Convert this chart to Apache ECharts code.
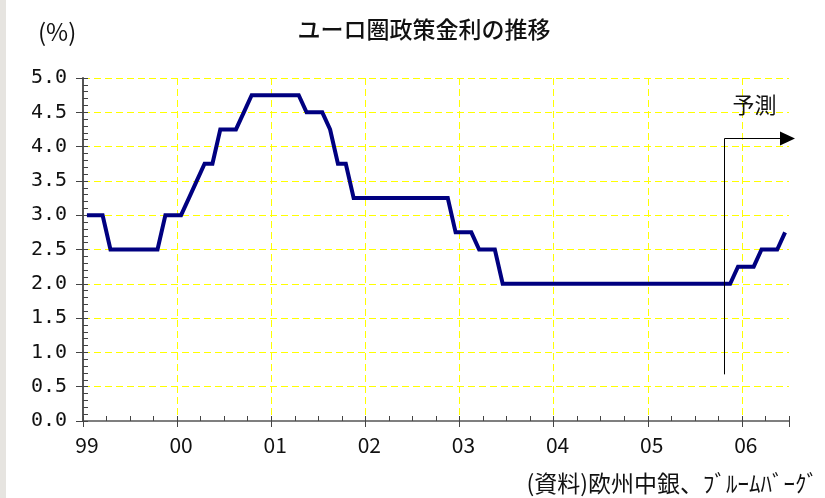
<!DOCTYPE html>
<html>
<head>
<meta charset="utf-8">
<script src="https://cdn.jsdelivr.net/npm/echarts@6/dist/echarts.min.js"></script>
<style>
html,body{margin:0;padding:0;background:#fff;}
#wrap{position:relative;width:825px;height:498px;background:#fff;}
#strip{position:absolute;left:0;top:0;width:6px;height:498px;background:#e6e4e0;}
#chart{position:absolute;left:0;top:0;width:825px;height:498px;}
</style>
</head>
<body>
<div id="wrap"><div id="strip"></div><div id="chart"></div></div>
<script>
// ---- data ----
const startYear = 1999;
const monthCount = 90; // Jan 1999 – Jun 2006
const months = [];
for (let i = 0; i < monthCount; i++) {
  const y = startYear + Math.floor(i / 12);
  const m = (i % 12) + 1;
  months.push(y + '-' + (m < 10 ? '0' + m : m));
}
const rate1999 = [3.0, 3.0, 3.0, 2.5, 2.5, 2.5, 2.5, 2.5, 2.5, 2.5, 3.0, 3.0];
const rate2000 = [3.0, 3.25, 3.5, 3.75, 3.75, 4.25, 4.25, 4.25, 4.5, 4.75, 4.75, 4.75];
const rate2001 = [4.75, 4.75, 4.75, 4.75, 4.5, 4.5, 4.5, 4.25, 3.75, 3.75, 3.25, 3.25];
const rate2002 = [3.25, 3.25, 3.25, 3.25, 3.25, 3.25, 3.25, 3.25, 3.25, 3.25, 3.25, 2.75];
const rate2003 = [2.75, 2.75, 2.5, 2.5, 2.5, 2.0, 2.0, 2.0, 2.0, 2.0, 2.0, 2.0];
const rate2004 = [2.0, 2.0, 2.0, 2.0, 2.0, 2.0, 2.0, 2.0, 2.0, 2.0, 2.0, 2.0];
const rate2005 = [2.0, 2.0, 2.0, 2.0, 2.0, 2.0, 2.0, 2.0, 2.0, 2.0, 2.0, 2.25];
const rate2006 = [2.25, 2.25, 2.5, 2.5, 2.5, 2.75];
const rates = [].concat(rate1999, rate2000, rate2001, rate2002, rate2003, rate2004, rate2005, rate2006);
const yearLabels = ['99', '00', '01', '02', '03', '04', '05', '06'];
const yTicks = { min: 0, max: 5, step: 0.5 };
// annotation (forecast marker)
const forecastStart = '2005-10';
const arrowTopValue = 4.13;
const arrowBottomValue = 0.68;

const titleText = 'ユーロ圏政策金利の推移';
const unitText = '(%)';
const sourceText = '(資料)欧州中銀、ﾌﾞﾙｰﾑﾊﾞｰｸﾞ';
const forecastText = '予測';

const JP = '"Noto Sans CJK JP", sans-serif';
const yellowDash = { color: '#ffff00', width: 1, type: [7, 4] };

const chart = echarts.init(document.getElementById('chart'), null, { renderer: 'canvas' });
chart.setOption({
  backgroundColor: 'transparent',
  animation: false,
  title: {
    text: titleText,
    left: 419, top: 13, textAlign: 'center',
    textStyle: { fontFamily: JP, fontSize: 23, fontWeight: 500, color: '#111' }
  },
  grid: { left: 83, right: 36, top: 78, bottom: 77, containLabel: false },
  xAxis: [
    {
      type: 'category', data: months, boundaryGap: true, position: 'bottom',
      axisLine: { show: true, lineStyle: { color: '#555', width: 1.5 } },
      axisTick: { show: true, inside: true, length: 5, interval: (i) => i % 3 === 0, lineStyle: { color: '#444', width: 1 } },
      axisLabel: {
        show: true, interval: (i) => i % 12 === 0, margin: 14,
        formatter: (v, i) => yearLabels[Math.floor(i / 12)],
        fontFamily: JP, fontSize: 21, color: '#111'
      },
      splitLine: { show: true, showMinLine: false, showMaxLine: false, interval: (i) => i % 12 === 0, lineStyle: yellowDash }
    },
    {
      type: 'category', data: months, boundaryGap: true, position: 'bottom',
      axisLine: { show: false },
      axisTick: { show: true, inside: false, length: 6, interval: (i) => i % 12 === 0, lineStyle: { color: '#444', width: 1 } },
      axisLabel: { show: false },
      splitLine: { show: false }
    }
  ],
  yAxis: [
    {
      type: 'value', min: yTicks.min, max: yTicks.max, interval: yTicks.step, position: 'left',
      axisLine: { show: true, lineStyle: { color: '#555', width: 2 } },
      axisTick: { show: true, inside: true, length: 5, lineStyle: { color: '#444', width: 1 } },
      minorTick: { show: true, splitNumber: 5, length: 5, lineStyle: { color: '#444', width: 1 } },
      axisLabel: {
        margin: 16, formatter: (v) => v.toFixed(1),
        fontFamily: '"DejaVu Sans Mono", monospace', fontSize: 20, color: '#111'
      },
      splitLine: { show: true, showMinLine: false, lineStyle: yellowDash }
    },
    {
      type: 'value', min: yTicks.min, max: yTicks.max, interval: yTicks.step, position: 'left',
      axisLine: { show: false },
      axisTick: { show: true, inside: false, length: 7, lineStyle: { color: '#444', width: 1 } },
      axisLabel: { show: false },
      splitLine: { show: false }
    }
  ],
  series: [{
    type: 'line', data: rates, xAxisIndex: 0, yAxisIndex: 0,
    symbol: 'none', smooth: false,
    lineStyle: { color: '#000080', width: 4, join: 'miter' },
    z: 5
  }]
});

function drawAnnotations() {
  const band = chart.convertToPixel({ xAxisIndex: 0 }, months[1]) - chart.convertToPixel({ xAxisIndex: 0 }, months[0]);
  const bx = Math.round(chart.convertToPixel({ xAxisIndex: 0 }, forecastStart) + band * 0.25) + 0.5;
  const yTop = Math.round(chart.convertToPixel({ yAxisIndex: 0 }, arrowTopValue)) + 0.5;
  const yBot = chart.convertToPixel({ yAxisIndex: 0 }, arrowBottomValue);
  const lastX = chart.convertToPixel({ xAxisIndex: 0 }, months[months.length - 1]);
  const axisEnd = lastX + band / 2;
  const tipX = axisEnd + 6;
  const headLen = 15, headHalf = 7;
  chart.setOption({
    graphic: [
      { type: 'polyline', z: 10, shape: { points: [[bx, yBot], [bx, yTop], [tipX - headLen, yTop]] },
        style: { stroke: '#000', lineWidth: 1, fill: null } },
      { type: 'polygon', z: 10, shape: { points: [[tipX - headLen, yTop - headHalf], [tipX, yTop], [tipX - headLen, yTop + headHalf]] },
        style: { fill: '#000' } },
      { type: 'text', z: 10, x: bx + 30, y: yTop - 34,
        style: { text: forecastText, fontFamily: JP, fontSize: 22, fill: '#111', align: 'center', verticalAlign: 'middle' } },
      { type: 'text', z: 10, x: 38, y: 32,
        style: { text: unitText, fontFamily: JP, fontSize: 24, fill: '#111', align: 'left', verticalAlign: 'middle' } },
      { type: 'text', z: 10, x: 818, y: 483,
        style: { text: sourceText, fontFamily: JP, fontSize: 23, fill: '#111', align: 'right', verticalAlign: 'middle' } }
    ]
  });
}
drawAnnotations();
</script>
</body>
</html>
